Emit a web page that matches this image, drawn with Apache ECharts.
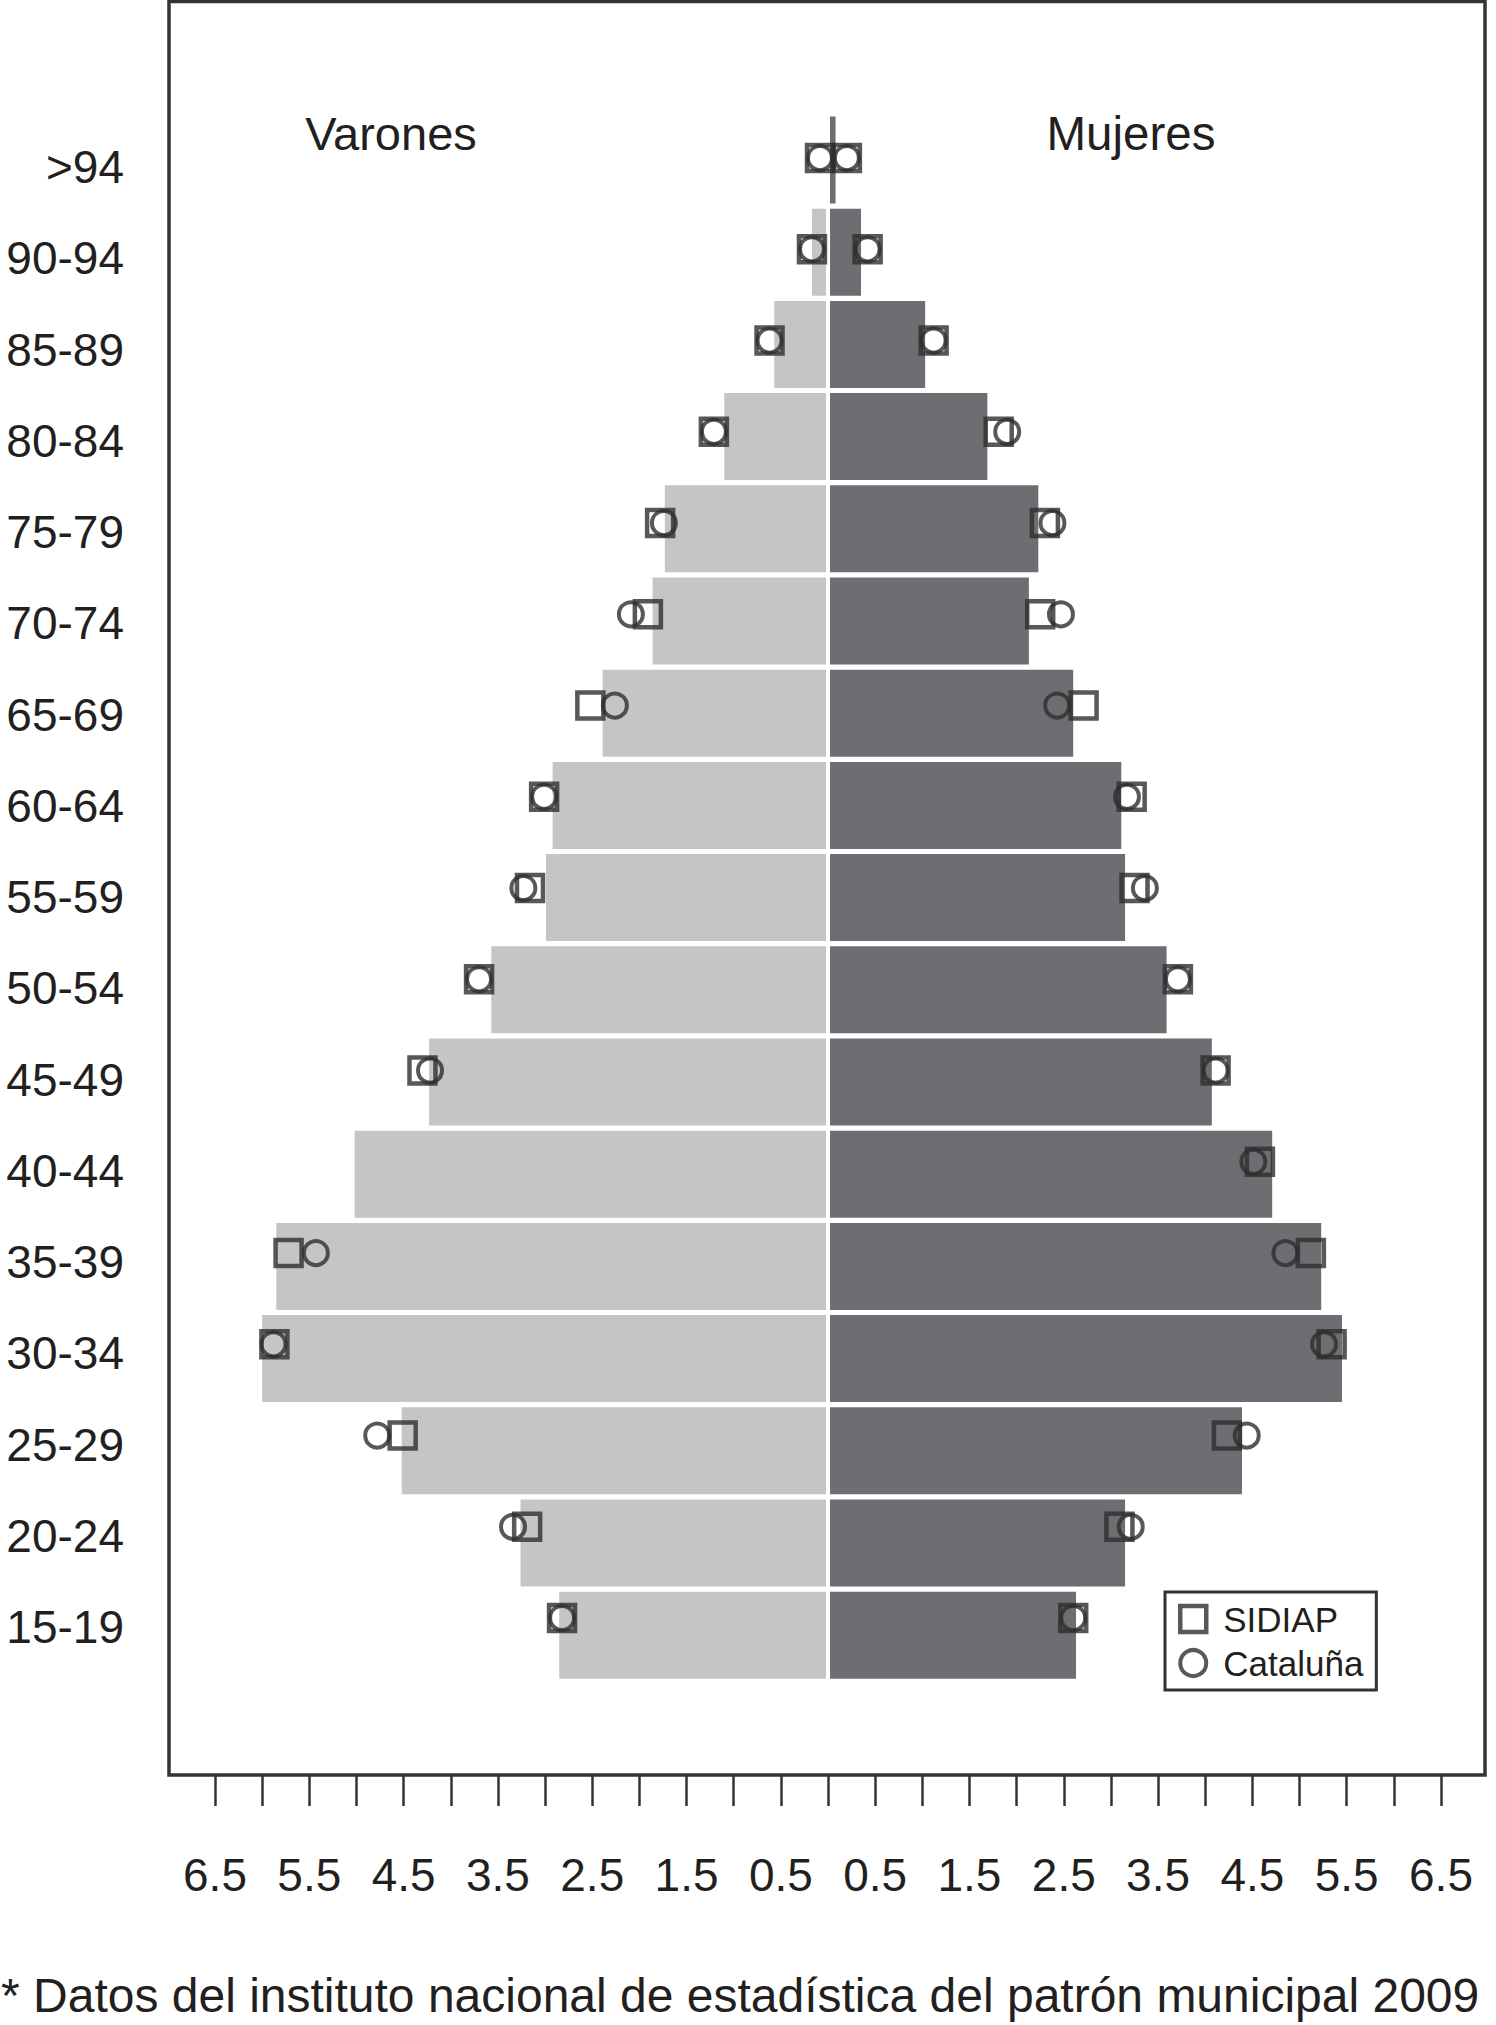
<!DOCTYPE html>
<html>
<head>
<meta charset="utf-8">
<title>Pirámide de población SIDIAP / Cataluña</title>
<script src="https://cdn.jsdelivr.net/npm/echarts@6.0.0/dist/echarts.min.js"></script>
<style>
  html, body { margin: 0; padding: 0; background: #fff; }
  #chart { width: 1496px; height: 2025px; }
</style>
</head>
<body>
<div id="chart"></div>
<script>
// age groups, top to bottom
const ageGroups = ['>94', '90-94', '85-89', '80-84', '75-79', '70-74', '65-69', '60-64',
  '55-59', '50-54', '45-49', '40-44', '35-39', '30-34', '25-29', '20-24', '15-19'];

// bars (%)
const maleBar   = [0.02, 0.17, 0.57, 1.10, 1.73, 1.86, 2.39, 2.92, 2.99, 3.57, 4.23, 5.02, 5.85, 6.00, 4.52, 3.26, 2.85];
const femaleBar = [0.08, 0.35, 1.03, 1.69, 2.23, 2.13, 2.60, 3.11, 3.15, 3.59, 4.07, 4.71, 5.23, 5.45, 4.39, 3.15, 2.63];

// markers (%), null = no marker drawn
const maleSidiap   = [0.085, 0.17, 0.62, 1.21, 1.78, 1.91, 2.52, 3.01, 3.16, 3.70, 4.30, null, 5.72, 5.87, 4.51, 3.19, 2.82];
const maleCat      = [0.085, 0.17, 0.62, 1.21, 1.74, 2.09, 2.26, 3.01, 3.23, 3.70, 4.22, null, 5.43, 5.88, 4.78, 3.34, 2.82];
const femaleSidiap = [0.20, 0.42, 1.12, 1.81, 2.30, 2.25, 2.71, 3.22, 3.25, 3.71, 4.11, 4.58, 5.12, 5.34, 4.23, 3.09, 2.60];
const femaleCat    = [0.20, 0.42, 1.12, 1.90, 2.38, 2.47, 2.43, 3.17, 3.36, 3.71, 4.11, 4.51, 4.85, 5.26, 4.44, 3.21, 2.60];

const FONT = '"Liberation Sans", Arial, Helvetica, sans-serif';
const INK = '#231f20';
const MARK = '#2e2e2e';
const SQUARE = 'path://M0 0H10V10H0Z';

// men go to the left (negative), women to the right
function markerPoints(male, female) {
  const pts = [];
  ageGroups.forEach((g, i) => {
    if (male[i] != null) pts.push([-male[i], i]);
    if (female[i] != null) pts.push([female[i], i]);
  });
  return pts;
}

const chart = echarts.init(document.getElementById('chart'), null, { renderer: 'svg' });

const hiddenX = (gi) => ({ gridIndex: gi, type: 'value', min: -6.5, max: 6.5, show: false });

const option = {
  animation: false,
  textStyle: { fontFamily: FONT },
  grid: [
    { left: 215, right: 55, top: 113.9, height: 1567.4 },   // bars
    { left: 215, right: 55, top: 112.4, height: 1551.25 },  // markers
    { left: 215, right: 55, top: 121.4, height: 1551.25 }   // age labels
  ],
  xAxis: [
    {
      gridIndex: 0,
      type: 'value',
      min: -6.5,
      max: 6.5,
      interval: 0.5,
      position: 'bottom',
      offset: 93.7,
      axisLine: { show: false },
      splitLine: { show: false },
      axisTick: { show: true, length: 31, lineStyle: { color: '#333', width: 2.5 } },
      axisLabel: {
        margin: 100,
        verticalAlign: 'middle',
        fontSize: 46,
        color: INK,
        fontFamily: FONT,
        formatter: (v) => (Math.round(Math.abs(v) * 2) % 2 === 1 ? Math.abs(v).toFixed(1) : '')
      }
    },
    hiddenX(1),
    hiddenX(2)
  ],
  yAxis: [
    { gridIndex: 0, type: 'category', data: ageGroups, inverse: true, show: false },
    { gridIndex: 1, type: 'category', data: ageGroups, inverse: true, show: false },
    {
      gridIndex: 2,
      type: 'category',
      data: ageGroups,
      inverse: true,
      axisLine: { show: false },
      axisTick: { show: false },
      axisLabel: { margin: 91, fontSize: 46, color: INK, fontFamily: FONT }
    }
  ],
  legend: {
    orient: 'vertical',
    left: 1165,
    top: 1592,
    padding: [9.5, 13, 9.5, 13],
    itemGap: 9,
    itemWidth: 26,
    itemHeight: 26,
    symbolKeepAspect: true,
    borderColor: '#333',
    borderWidth: 3,
    textStyle: { fontSize: 35, color: INK, fontFamily: FONT, padding: [0, 0, 0, 12] },
    data: [
      { name: 'SIDIAP', icon: SQUARE, itemStyle: { color: 'rgba(0,0,0,0)', borderColor: MARK, borderWidth: 4.5 } },
      { name: 'Cataluña', icon: 'circle', itemStyle: { color: 'rgba(0,0,0,0)', borderColor: MARK, borderWidth: 4 } }
    ]
  },
  series: [
    {
      name: 'Varones',
      type: 'bar',
      xAxisIndex: 0,
      yAxisIndex: 0,
      barWidth: 87,
      barGap: '-100%',
      data: maleBar.map(v => -v),
      itemStyle: { color: '#c4c5c7' }
    },
    {
      name: 'Mujeres',
      type: 'bar',
      xAxisIndex: 0,
      yAxisIndex: 0,
      barWidth: 87,
      barGap: '-100%',
      data: femaleBar,
      itemStyle: { color: '#6d6e71' },
      markLine: {
        silent: true,
        symbol: ['none', 'none'],
        label: { show: false },
        lineStyle: { color: '#fff', width: 4, type: 'solid' },
        data: [{ xAxis: 0 }]
      }
    },
    {
      name: 'SIDIAP',
      type: 'scatter',
      xAxisIndex: 1,
      yAxisIndex: 1,
      symbol: 'rect',
      symbolSize: 26,
      z: 5,
      data: markerPoints(maleSidiap, femaleSidiap),
      itemStyle: { color: 'rgba(0,0,0,0)', borderColor: MARK, borderWidth: 4.5 }
    },
    {
      name: 'Cataluña',
      type: 'scatter',
      xAxisIndex: 1,
      yAxisIndex: 1,
      symbol: 'circle',
      symbolSize: 24,
      z: 6,
      data: markerPoints(maleCat, femaleCat),
      itemStyle: { color: 'rgba(0,0,0,0)', borderColor: MARK, borderWidth: 4 }
    }
  ],
  graphic: [
    {
      type: 'rect',
      z: -1,
      shape: { x: 169, y: 1.5, width: 1316, height: 1773.5 },
      style: { fill: 'none', stroke: '#333', lineWidth: 3.5 }
    },
    {
      type: 'text', x: 391, y: 133,
      style: { text: 'Varones', fontSize: 47, fontFamily: FONT, fill: INK, textAlign: 'center', textVerticalAlign: 'middle' }
    },
    {
      type: 'text', x: 1131, y: 133,
      style: { text: 'Mujeres', fontSize: 47.5, fontFamily: FONT, fill: INK, textAlign: 'center', textVerticalAlign: 'middle' }
    },
    {
      type: 'text', x: 1, y: 1995,
      style: { text: '* Datos del instituto nacional de estadística del patrón municipal 2009', fontSize: 48, fontFamily: FONT, fill: INK, textAlign: 'left', textVerticalAlign: 'middle' }
    }
  ]
};

chart.setOption(option);
</script>
</body>
</html>
